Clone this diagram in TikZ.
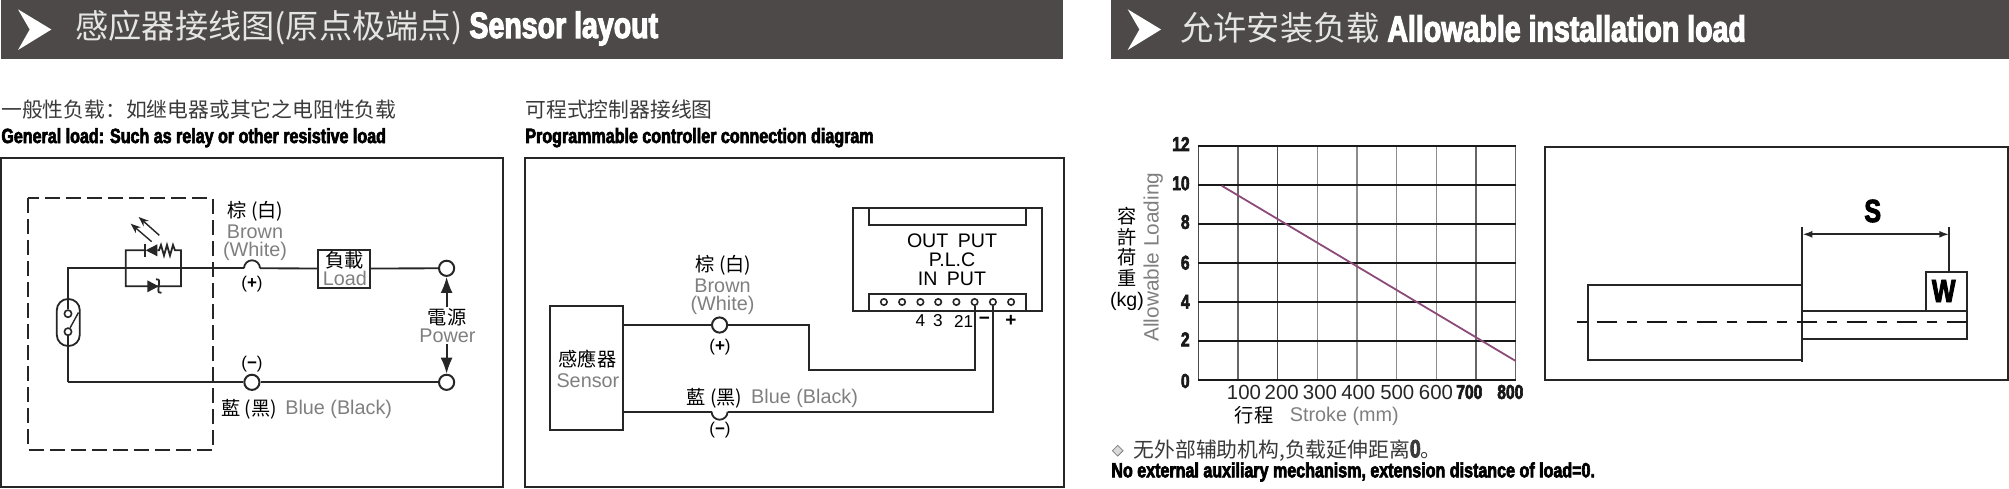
\documentclass[tikz,border=0pt]{standalone}
\usepackage{fontspec}
\usepackage{xcolor}
\setmainfont{Liberation Sans}
\newfontfamily\cjk{Noto Sans CJK SC}
\newfontfamily\heavy[FakeStretch=0.78,FakeBold=3]{Liberation Sans}
\usetikzlibrary{arrows.meta,positioning,shapes.geometric,calc}
\definecolor{gbar}{HTML}{4C4948}
\definecolor{gtext}{HTML}{3A3A3A}
\definecolor{ggrey}{HTML}{7F7F7F}
\definecolor{gplum}{HTML}{8C4A78}
\newcommand{\hv}[1]{{\fontsize{12.5}{12}\selectfont\heavy\bfseries #1}}
\tikzset{
  panel/.style={draw=black!85, line width=1.1pt},
  wire/.style={draw=black!85, line width=0.9pt},
  thinwire/.style={draw=black!85, line width=0.7pt},
  dot/.style={circle, draw=black!85, line width=1pt, fill=white, minimum size=7.6pt, inner sep=0pt},
  pin/.style={circle, draw=black!85, line width=0.8pt, fill=white, minimum size=3.2pt, inner sep=0pt},
  devbox/.style={draw=black!85, line width=1pt, inner sep=0pt},
  lbl/.style={inner sep=0pt, font=\fontsize{9.8}{11}\selectfont, text=black},
  cnlbl/.style={inner sep=0pt, font=\fontsize{9.6}{11}\selectfont\cjk, text=black},
  glbl/.style={inner sep=0pt, font=\fontsize{9.9}{11}\selectfont, text=ggrey},
  headcn/.style={inner sep=0pt, anchor=west, text=gtext, font=\fontsize{10.4}{12}\selectfont\cjk},
  headen/.style={inner sep=0pt, anchor=west, text=black, font=\fontsize{10.3}{12}\selectfont\heavy\bfseries},
  barcn/.style={inner sep=0pt, anchor=west, text=white!90!black, font=\fontsize{16.6}{18}\selectfont\cjk},
  baren/.style={inner sep=0pt, anchor=west, text=white, font=\fontsize{18.3}{20}\selectfont\heavy\bfseries},
  tick/.style={inner sep=0pt, font=\fontsize{10}{12}\selectfont\heavy\bfseries, text=black!90},
  xnum/.style={inner sep=0pt, font=\fontsize{10.2}{12}\selectfont, text=black!85},
}
\begin{document}
\begin{tikzpicture}[x=0.5pt,y=-0.5pt]
  \useasboundingbox (0,0) rectangle (2009,488);

  % Title bars
  \fill[gbar] (1,0) rectangle (1063,59);
  \fill[gbar] (1110.7,0) rectangle (2009,59);
  \foreach \x in {18,1127.7} {
    \fill[white] (\x,9.3) -- ({\x+33.4},29.5) -- (\x,50) -- ({\x+11.7},29.5) -- cycle;
  }
  \node[barcn] (barcnA) at (75,28) {感应器接线图(原点极端点)};
  \node[baren] (barenA) at (469,28.5) {Sensor layout};
  \node[barcn] (barcnB) at (1180,28) {允许安装负载};
  \node[baren] (barenB) at (1387,28.5) {Allowable installation load};

  % Panel captions
  \node[headcn] (capA) at (1,110) {一般性负载：如继电器或其它之电阻性负载};
  \node[headen] (capAen) at (1,137.7) {General load: Such as relay or other resistive load};
  \node[headcn] (capB) at (525,110) {可程式控制器接线图};
  \node[headen] (capBen) at (525,137.7) {Programmable controller connection diagram};

  \begin{scope}[yshift=-0.5pt]
  % General load panel
  \draw[panel] (1,157) rectangle (502.7,486);
  \draw[black!85, line width=0.9pt, dash pattern=on 7.5pt off 3pt] (28,197.3) rectangle (212.6,448.7);
  \node[devbox, minimum width=26pt, minimum height=19pt] (load) at (343.8,267.5) {};
  \node[dot] (termtop) at (446.6,267.3) {};
  \node[dot] (termbot) at (446.6,381.3) {};
  \node[dot] (minusA) at (251.9,381.3) {};
  \coordinate (cornerTL) at (68,267.3);
  \coordinate (cornerBL) at (68,381.3);
  \coordinate (bumpL) at (244,267.3);
  \coordinate (bumpR) at (260,267.3);
  \draw[wire] (cornerBL) -- (cornerTL) -- (bumpL);
  \draw[wire] (bumpL) arc[start angle=180, end angle=0, radius=4pt];
  \draw[wire] (bumpR) -- (load);
  \draw[wire] (load) -- (termtop);
  \draw[wire] (cornerBL) -- (minusA);
  \draw[wire] (minusA) -- (termbot);

  % Switch
  \draw[wire, fill=white, rounded corners=5.6pt] (56.8,298) rectangle (79.8,345);
  \node[pin, minimum size=3.6pt] (swA) at (68,312.7) {};
  \node[pin, minimum size=3.6pt] (swB) at (68,330.7) {};
  \draw[thinwire] (swB) -- (78.5,311.5);
  \draw[wire] (68,298) -- (swA);
  \draw[wire] (swB) -- (68,345);

  % LED, resistor and zener
  \draw[wire] (144.7,249.3) -- (125.8,249.3) -- (125.8,285.3) -- (180.9,285.3) -- (180.9,249.3) -- (175,249.3) -- (173,244) -- (170,254.5) -- (167,244) -- (164,254.5) -- (161,244) -- (159,249.3) -- (157.3,249.3);
  \draw[wire] (144.7,242.5) -- (144.7,256);
  \fill[black!85] (145.7,249.3) -- (157.3,243.3) -- (157.3,255.3) -- cycle;
  \draw[thinwire, -{Stealth[length=5pt,width=3.8pt]}] (151.7,240.7) -- (130.7,222.7);
  \draw[thinwire, -{Stealth[length=5pt,width=3.8pt]}] (159.3,234.3) -- (138.7,216);
  \fill[black!85] (158.7,285.3) -- (147.3,279.3) -- (147.3,291.3) -- cycle;
  \draw[wire] (156,278.3) .. controls (159.5,278.5) .. (158.7,285.3) .. controls (158,291.5) .. (161.5,291.7);

  % Power arrows
  \coordinate (powA) at (446.6,306);
  \coordinate (powB) at (446.6,343);
  \draw[wire, -{Latex[length=8pt,width=6pt]}] (powA) -- (termtop);
  \draw[wire, -{Latex[length=8pt,width=6pt]}] (powB) -- (termbot);

  % General load labels
  \node[cnlbl] (brownA) at (255.5,210) {棕 (白)};
  \node[glbl] (brownAen) at (255,231) {Brown};
  \node[glbl] (whiteA) at (255,250) {(White)};
  \node[lbl, font=\fontsize{8.5}{10}\selectfont] (plusA) at (252,283) {(\textbf{+})};
  \node[lbl, font=\fontsize{8.5}{10}\selectfont] (minusAlbl) at (252,363) {(\textbf{−})};
  \node[cnlbl] (blueA) at (249,408) {藍 (黑)};
  \node[glbl] (blueAen) at (338.7,408.5) {Blue (Black)};
  \node[cnlbl] (loadcn) at (344.8,259) {負載};
  \node[glbl] (loaden) at (344.8,277) {Load};
  \node[cnlbl] (powcn) at (447,316) {電源};
  \node[glbl] (powen) at (447.5,334.8) {Power};

  % Programmable controller panel
  \draw[panel] (525,157) rectangle (1063.6,486);
  \node[devbox, minimum width=36.2pt, minimum height=62.2pt] (sensor) at (586.6,367.2) {};
  \node[devbox, minimum width=94.6pt, minimum height=51.2pt] (plc) at (947.5,258.5) {};
  \draw[wire, line width=1pt] (868.6,207.3) -- (868.6,223.7) -- (1026.4,223.7) -- (1026.4,207.3);
  \draw[wire, line width=1pt] (868.6,309.7) -- (868.6,292.7) -- (1026.4,292.7) -- (1026.4,309.7);
  \foreach \i/\x in {1/883.9,2/902.1,3/920.4,4/938.2,5/956.4,6/974.6,7/992.9,8/1011.1} {
    \node[pin] (pin\i) at (\x,301) {};
  }
  \node[dot] (plusB) at (719.6,324) {};
  \coordinate (bendA) at (809,324);
  \coordinate (bendB) at (809,368.7);
  \draw[wire] (sensor.east |- plusB) -- (plusB);
  \draw[wire] (plusB) -- (bendA) -- (bendB) -- (pin6 |- bendB) -- (pin6);
  \coordinate (bumpC) at (711.6,410.7);
  \coordinate (bumpD) at (727.6,410.7);
  \coordinate (bendC) at (pin7 |- bumpC);
  \draw[wire] (sensor.east |- bumpC) -- (bumpC);
  \draw[wire] (bumpC) arc[start angle=180, end angle=360, radius=4pt];
  \draw[wire] (bumpD) -- (bendC) -- (pin7);

  % Controller labels
  \node[lbl] (outlbl) at (952,239.5) {OUT\hspace{2pt} PUT};
  \node[lbl] (plclbl) at (952,258.8) {P.L.C};
  \node[lbl] (inlbl) at (952,277.8) {IN\hspace{2pt} PUT};
  \foreach \n/\x/\t in {four/920.4/4,three/937.9/3,twoone/963.6/21} {
    \node[lbl, font=\fontsize{8.6}{10}\selectfont] (num\n) at (\x,320) {\t};
  }
  \node[lbl, font=\fontsize{9.5}{10}\selectfont\bfseries] (minusB) at (984.3,319.5) {−};
  \node[lbl, font=\fontsize{9.5}{10}\selectfont\bfseries] (plusBlbl) at (1011,319.5) {+};
  \node[cnlbl] (brownB) at (723.5,264) {棕 (白)};
  \node[glbl] (brownBen) at (722.5,285.2) {Brown};
  \node[glbl] (whiteB) at (722.5,304.2) {(White)};
  \node[lbl, font=\fontsize{8.5}{10}\selectfont] (plusBtxt) at (720,345.7) {(\textbf{+})};
  \node[lbl, font=\fontsize{8.5}{10}\selectfont] (minusBtxt) at (720,429.3) {(\textbf{−})};
  \node[cnlbl] (blueB) at (714.5,397.3) {藍 (黑)};
  \node[glbl] (blueBen) at (804.6,397.8) {Blue (Black)};
  \node[cnlbl] (sensorcn) at (587.5,358.3) {感應器};
  \node[glbl] (sensoren) at (587.9,379.8) {Sensor};
  \end{scope}

  % Load chart grid
  \foreach \i/\c in {0/black!70,1/black!60,2/black!70,3/black!45,4/black!45,5/black!45,6/black!45,7/black!60,8/black!60} {
    \draw[\c, line width=0.7pt] ({1198.3+39.67*\i},146) -- ({1198.3+39.67*\i},380);
  }
  \foreach \i in {0,...,6} {
    \draw[black!90, line width=0.85pt] (1198.3,{146+39*\i}) -- (1515.7,{146+39*\i});
  }
  \coordinate (loadS) at (1221.7,185.7);
  \coordinate (loadE) at (1515.7,361);
  \draw[gplum, line width=0.9pt] (loadS) -- (loadE);
  \foreach \n/\y/\t in {a/144/12,b/183.3/10,c/222/8,d/262.7/6,e/301.7/4,f/339.3/2,g/381/0} {
    \node[tick, anchor=east] (yt\n) at (1190,\y) {\t};
  }
  \foreach \x/\t in {1244/100,1281.7/200,1320/300,1358.3/400,1397.3/500,1436/600} {
    \node[xnum] (xt\t) at (\x,392.7) {\t};
  }
  \node[tick] (xt700) at (1469.3,392) {700};
  \node[tick] (xt800) at (1510.3,392) {800};
  \node[cnlbl] (strokecn) at (1254,415.5) {行程};
  \node[glbl] (strokeen) at (1344.3,416) {Stroke (mm)};
  \foreach \n/\y/\t in {a/216/容,b/236.7/許,c/257.3/荷,d/278.3/重} {
    \node[cnlbl] (yc\n) at (1127,\y) {\t};
  }
  \node[lbl] (kg) at (1127,301.7) {(kg)};
  \node[glbl, rotate=90, font=\fontsize{10.4}{12}\selectfont] (allow) at (1153.3,257.2) {Allowable Loading};

  % Note under chart
  \node[diamond, draw=ggrey, line width=0.4pt, minimum size=5.5pt, inner sep=0pt, fill=ggrey!30] (mark) at (1117.7,450.7) {};
  \node[headcn] (note) at (1133.3,450.5) {无外部辅助机构,负载延伸距离\hv{0}。};
  \node[headen] (noteen) at (1111,472) {No external auxiliary mechanism, extension distance of load=0.};

  % Installation panel
  \draw[panel] (1545,146.7) rectangle (2008,380);
  \draw[wire, line width=1pt] (1802.3,285) -- (1588.3,285) -- (1588.3,360) -- (1802.3,360);
  \draw[wire, line width=1pt] (1802.3,311.3) -- (1967,311.3) -- (1967,338.7) -- (1802.3,338.7);
  \node[devbox, minimum width=20.5pt, minimum height=19.5pt] (wbox) at (1946.5,291.8) {};
  \coordinate (dimL) at (1802.3,227.3);
  \coordinate (dimLb) at (1802.3,362);
  \coordinate (dimR) at (1949.3,227.3);
  \draw[wire, line width=1pt] (dimL) -- (dimLb);
  \draw[wire, line width=1pt] (dimR) -- (wbox.north -| dimR);
  \draw[wire, line width=1pt, {Latex[open,length=5pt,width=3.5pt]}-{Latex[open,length=5pt,width=3.5pt]}] (1802.3,234.3) -- (1949.3,234.3);
  \draw[black!90, line width=1pt, dash pattern=on 10pt off 5pt on 5pt off 5pt, dash phase=15pt] (1576.7,321.7) -- (1967,321.7);
  \node[inner sep=0pt, font=\fontsize{16}{18}\selectfont\heavy\bfseries] (slbl) at (1872.7,211) {S};
  \node[inner sep=0pt, font=\fontsize{16}{18}\selectfont\heavy\bfseries] (wlbl) at (1943.7,291) {W};
\end{tikzpicture}
\end{document}
